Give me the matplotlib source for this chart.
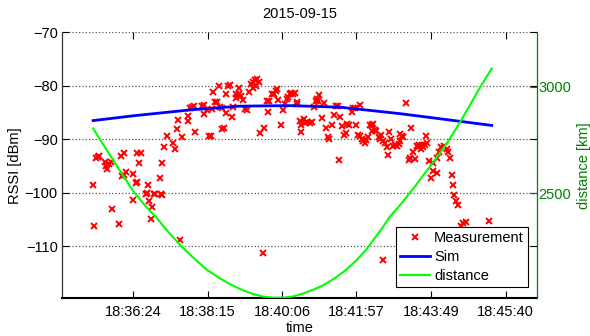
import matplotlib
matplotlib.use("Agg")
import matplotlib.pyplot as plt

plt.rcParams['font.family'] = ['Liberation Sans', 'DejaVu Sans']
plt.rcParams['font.size'] = 10.5

TITLE = "2015-09-15"
BASE = "18:34:00"  # time values below are seconds after this clock time

meas_t = [84, 86, 89, 92, 93, 102, 104, 105, 108, 111, 112, 122, 125, 130, 127, 130, 133, 144, 143, 148,
          149, 150, 155, 152, 163, 165, 166, 168, 170, 172, 175, 177, 184, 185, 187, 187, 190, 194, 203, 206,
          209, 211, 214, 216, 225, 226, 229, 231, 234, 236, 246, 249, 250, 254, 257, 260, 261, 263, 266, 269,
          272, 273, 276, 277, 279, 282, 283, 286, 288, 291, 293, 297, 298, 302, 302, 305, 308, 311, 313, 316,
          320, 322, 325, 328, 331, 323, 327, 333, 337, 339, 343, 347, 345, 351, 354, 357, 359, 360, 365, 367,
          370, 373, 375, 378, 380, 383, 385, 388, 389, 393, 394, 395, 399, 401, 404, 408, 410, 414, 416, 418,
          419, 421, 425, 428, 431, 434, 436, 440, 444, 446, 449, 451, 453, 455, 459, 461, 463, 466, 470, 472,
          475, 477, 480, 482, 483, 485, 487, 490, 492, 494, 497, 500, 502, 501, 505, 507, 510, 512, 514, 516,
          517, 520, 522, 524, 526, 528, 532, 535, 537, 540, 542, 542, 545, 547, 551, 555, 557, 559, 562, 565,
          567, 569, 570, 572, 573, 575, 577, 579, 582, 581, 586, 588, 591, 592, 597, 597, 601, 604, 608, 612,
          614, 617, 619, 621, 623, 626, 629, 633, 636, 641, 675]
meas_rssi = [-98.5, -106.2, -93.5, -93.3, -93.2, -94.3, -94.9, -95.6, -94.6, -94.3, -103.1, -105.8, -93.1, -92.6, -96.8,
             -96.6, -96.1, -96.5, -101.3, -98.1, -97.9, -92.6, -92.6, -94.4, -100.2, -100.1, -98.5, -101.5, -104.9, -102.6,
             -100.2, -100.2, -97.2, -100.2, -100.4, -94.4, -91.5, -89.4, -90.7, -91.8, -88.1, -86.3, -108.9, -89.6, -86.6,
             -85.6, -84.1, -83.9, -83.7, -88.7, -83.7, -83.6, -85.2, -84.6, -89.3, -89.3, -84.3, -81.2, -83.1, -83.1,
             -80.1, -83.9, -84.1, -88.1, -87.8, -85.1, -81.6, -80.1, -79.9, -85.8, -83.9, -82.3, -81.5, -80.4, -81.6,
             -81.9, -82.6, -84.3, -84.6, -81.2, -79.6, -79.3, -78.9, -78.7, -79.3, -80.4, -80.1, -88.9, -111.2, -87.9,
             -82.8, -82.8, -84.9, -81.6, -81.5, -81.0, -80.6, -82.6, -87.3, -84.6, -83.4, -82.4, -82.1, -81.5, -81.3,
             -81.6, -81.4, -83.1, -83.4, -86.6, -88.7, -87.4, -86.2, -87.0, -86.8, -87.0, -86.8, -83.9, -82.9, -82.4,
             -82.8, -81.8, -86.0, -83.2, -87.9, -89.5, -89.9, -87.4, -85.4, -83.7, -83.7, -93.9, -85.8, -87.6, -89.2,
             -88.8, -87.1, -87.4, -84.8, -84.1, -84.1, -87.4, -89.1, -89.4, -83.6, -89.9, -90.4, -90.6, -90.1, -89.6,
             -87.4, -87.3, -87.1, -88.5, -88.2, -88.5, -89.6, -89.9, -89.2, -112.6, -90.4, -90.6, -91.4, -92.9, -88.6,
             -89.9, -91.2, -91.0, -91.2, -90.8, -90.4, -89.0, -89.3, -89.6, -83.2, -93.9, -93.5, -87.8, -92.4, -93.7,
             -91.2, -91.5, -91.0, -91.2, -91.8, -91.0, -91.5, -91.0, -90.6, -89.4, -94.1, -97.2, -96.0, -94.5, -96.2,
             -93.5, -92.4, -91.5, -91.2, -91.8, -92.4, -93.5, -96.6, -98.5, -100.4, -101.5, -102.3, -106.1, -105.7, -105.4,
             -105.3]

sim_t = [84, 144, 229, 303, 378, 453, 542, 617, 679]
sim_rssi = [-86.5, -85.6, -84.5, -83.8, -83.7, -84.0, -85.2, -86.4, -87.4]

dist_t = [84, 99, 114, 129, 144, 161, 179, 196, 214, 234, 254, 274, 293, 308, 323, 338, 353, 368, 383, 398,
          413, 428, 445, 461, 477, 490, 502, 515, 527, 540, 552, 565, 577, 595, 612, 622, 632, 647, 662, 679]
dist_km = [2805, 2730, 2656, 2582, 2510, 2445, 2385, 2320, 2258, 2197, 2142, 2100, 2067, 2045, 2028, 2016, 2011,
           2011, 2017, 2031, 2049, 2070, 2103, 2140, 2186, 2230, 2280, 2335, 2391, 2437, 2484, 2535, 2586, 2660,
           2735, 2785, 2836, 2917, 3000, 3086]

xtick_labels = ["18:36:24", "18:38:15", "18:40:06", "18:41:57", "18:43:49", "18:45:40"]
rssi_ticks = [-110, -100, -90, -80, -70]
dist_ticks = [2500, 3000]
legend_labels = ["Measurement", "Sim", "distance"]


def hms(s):
    h, m, sec = map(int, s.split(':'))
    return h * 3600 + m * 60 + sec


base = hms(BASE)
xticks = [hms(l) - base for l in xtick_labels]

DGREEN = '#008000'

fig = plt.figure(figsize=(5.9, 3.36), dpi=100)
ax1 = fig.add_axes([0.1051, 0.1122, 0.8051, 0.7917])
ax2 = ax1.twinx()

m, = ax1.plot(meas_t, meas_rssi, linestyle='none', marker='x', color='red',
              markersize=4.5, markeredgewidth=1.4)
s, = ax1.plot(sim_t, sim_rssi, color='blue', linewidth=2)
d, = ax2.plot(dist_t, dist_km, color='#00ff00', linewidth=1.5)

ax1.set_xlim(37.6, 746.6)
ax1.set_ylim(-119.7, -70)
ax2.set_ylim(2008, 3256)
ax1.set_xticks(xticks)
ax1.set_xticklabels(xtick_labels)
ax1.set_yticks(rssi_ticks)
ax2.set_yticks(dist_ticks)

ax1.yaxis.grid(True, linestyle=':', color='#555555', linewidth=0.9)

ax1.spines['top'].set_visible(False)
ax1.spines['right'].set_visible(False)
ax1.spines['bottom'].set_linewidth(1.5)
ax1.spines['left'].set_linewidth(0.9)
ax1.spines['left'].set_color('#333333')
for k in ('left', 'top', 'bottom'):
    ax2.spines[k].set_visible(False)
ax2.spines['right'].set_color(DGREEN)
ax2.spines['right'].set_linewidth(0.9)

ax1.tick_params(axis='both', direction='in', length=5, width=0.8, top=True, right=True)
ax1.tick_params(axis='y', pad=3)
ax1.tick_params(axis='x', pad=5)
ax2.tick_params(axis='y', direction='in', length=5, width=0.8, colors=DGREEN, pad=1)

ax1.set_ylabel('RSSI [dBm]', labelpad=2)
ax2.set_ylabel('distance [km]', color=DGREEN, labelpad=4)
ax1.set_xlabel('time', labelpad=1)
ax1.set_title(TITLE, pad=10, fontsize=10.5)

leg = ax2.legend([m, s, d], legend_labels, loc='lower right', bbox_to_anchor=(0.9817, 0.0413),
                 borderaxespad=0, fancybox=False, framealpha=1, edgecolor='black',
                 handlelength=2.05, handletextpad=0.3, labelspacing=0.34, borderpad=0.3,
                 numpoints=1)
leg.get_frame().set_linewidth(0.8)

fig.savefig('out.png', dpi=100)
